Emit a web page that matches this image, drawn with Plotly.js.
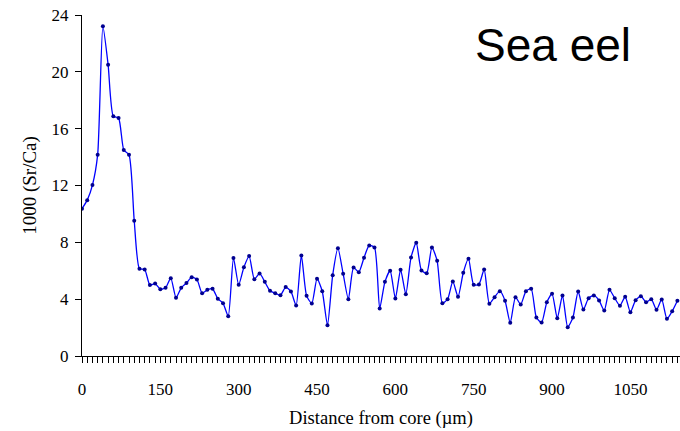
<!DOCTYPE html>
<html>
<head>
<meta charset="utf-8">
<script src="https://cdn.plot.ly/plotly-3.0.1.min.js"></script>
<style>html,body{margin:0;padding:0;background:#fff;}#chart{width:680px;height:431px;}</style>
</head>
<body>
<div id="chart"></div>
<script>
// Distance from core (µm), sampled every 10 µm
const distance = [];
for (let i = 0; i <= 114; i++) distance.push(i * 10);

// 1000 (Sr/Ca) values
const srca = [
  10.37, 10.97, 12.03, 14.17, 23.2, 20.5, 16.87, 16.75, 14.5, 14.17,
  9.52, 6.14, 6.09, 4.99, 5.1, 4.7, 4.8, 5.48, 4.1, 4.8,
  5.13, 5.55, 5.39, 4.42, 4.66, 4.73, 4.03, 3.72, 2.8, 6.89,
  5.01, 6.25, 7.03, 5.41, 5.81, 5.22, 4.59, 4.42, 4.28, 4.85,
  4.54, 3.56, 7.08, 4.24, 3.70, 5.44, 4.56, 2.17, 5.69, 7.59,
  5.79, 4.0, 6.23, 5.9, 6.92, 7.78, 7.64, 3.35, 5.22, 6.0,
  4.05, 6.07, 4.35, 6.94, 7.97, 6.02, 5.83, 7.64, 6.7, 3.72,
  4.0, 5.25, 4.17, 5.86, 6.85, 5.01, 5.04, 6.09, 3.68, 4.14,
  4.56, 3.89, 2.34, 4.14, 3.63, 4.56, 4.73, 2.71, 2.36, 3.79,
  4.38, 2.66, 4.26, 2.03, 2.71, 4.54, 3.27, 4.07, 4.26, 3.91,
  3.2, 4.66, 4.07, 3.54, 4.17, 3.08, 3.93, 4.21, 3.79, 4.0,
  3.25, 3.98, 2.62, 3.15, 3.89
];

const xTickVals = [0, 150, 300, 450, 600, 750, 900, 1050];
const yTickVals = [0, 4, 8, 12, 16, 20, 24];

const serif = 'Liberation Serif, Times New Roman, serif';

const trace = {
  x: distance,
  y: srca,
  type: 'scatter',
  mode: 'lines+markers',
  line: {color: '#0000ff', width: 1.3, shape: 'spline', smoothing: 0.6},
  marker: {color: '#000090', size: 4, symbol: 'circle'},
  hoverinfo: 'x+y'
};

const layout = {
  width: 680,
  height: 431,
  margin: {l: 82, r: 0, t: 15, b: 75},
  paper_bgcolor: '#ffffff',
  plot_bgcolor: '#ffffff',
  showlegend: false,
  font: {family: serif, size: 17, color: '#000'},
  xaxis: {
    range: [0, 1145],
    tickmode: 'array',
    tickvals: xTickVals,
    ticktext: xTickVals.map(String),
    ticks: 'outside',
    ticklen: 6,
    tickwidth: 1,
    tickcolor: '#000',
    ticklabelstandoff: 12,
    minor: {dtick: 10, tick0: 0, ticks: 'outside', ticklen: 6, tickwidth: 1, tickcolor: '#000', showgrid: false},
    showline: true,
    linecolor: '#000',
    linewidth: 1,
    showgrid: false,
    zeroline: false,
    tickfont: {family: serif, size: 17, color: '#000'},
    title: {text: 'Distance from core (\u00b5m)', font: {family: serif, size: 18.5, color: '#000'}, standoff: 12}
  },
  yaxis: {
    range: [0, 24],
    tickmode: 'array',
    tickvals: yTickVals,
    ticktext: yTickVals.map(String),
    ticks: 'outside',
    ticklen: 6,
    tickwidth: 1,
    tickcolor: '#000',
    ticklabelstandoff: 3,
    showline: true,
    linecolor: '#000',
    linewidth: 1,
    showgrid: false,
    zeroline: false,
    tickfont: {family: serif, size: 17, color: '#000'},
    title: {text: '1000 (Sr/Ca)', font: {family: serif, size: 19, color: '#000'}, standoff: 9}
  },
  annotations: [{
    text: 'Sea eel',
    xref: 'paper', yref: 'paper',
    x: 0.788, y: 0.912,
    xanchor: 'center', yanchor: 'middle',
    showarrow: false,
    font: {family: 'Liberation Sans, Arial, sans-serif', size: 46, color: '#000'}
  }]
};

Plotly.newPlot('chart', [trace], layout, {displayModeBar: false, staticPlot: true});
</script>
</body>
</html>
